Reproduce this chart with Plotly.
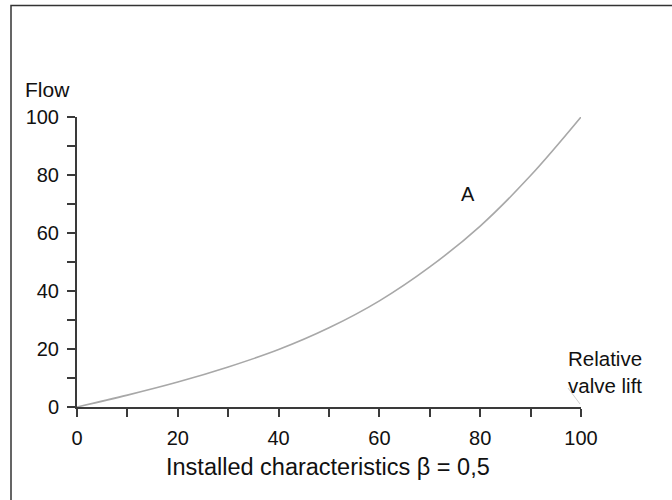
import plotly.graph_objects as go

# Data
valve_lift = [0, 10, 20, 30, 40, 50, 60, 70, 80, 90, 100]
flow = [0, 4.1, 8.6, 13.8, 19.8, 27.3, 36.6, 48.3, 62.4, 79.8, 100]
x_tick_vals = [0, 20, 40, 60, 80, 100]
y_tick_vals = [0, 20, 40, 60, 80, 100]
curve_label = "A"
curve_label_pos = (77.5, 73.3)

W, H = 672, 500
L, R, T, B = 77, 91, 117, 93
pw, ph = W - L - R, H - T - B

def px(xp):
    return (xp - L) / pw

def py(yp):
    return (H - B - yp) / ph

FONT = "Liberation Sans, Arial, Helvetica, sans-serif"
AX = "#3a3a3a"

fig = go.Figure()
fig.add_trace(go.Scatter(
    x=valve_lift, y=flow, mode="lines",
    line=dict(color="#a8a8a8", width=1.6, shape="spline", smoothing=1.0),
    cliponaxis=False, hoverinfo="skip", showlegend=False,
))

tick_font = dict(size=20, color="#111111")
axis_common = dict(
    range=[0, 100], showgrid=False, zeroline=False,
    showline=True, linecolor=AX, linewidth=2,
    ticks="outside", ticklen=8, tickwidth=2, tickcolor=AX,
    minor=dict(dtick=10, ticks="outside", ticklen=8, tickwidth=2, tickcolor=AX, showgrid=False),
    tickfont=tick_font, ticklabelstandoff=4,
)

fig.update_layout(
    width=W, height=H,
    margin=dict(l=L, r=R, t=T, b=B, pad=0),
    paper_bgcolor="white", plot_bgcolor="white",
    font=dict(family=FONT, color="#111111", size=20),
    showlegend=False,
    xaxis=dict(tickvals=x_tick_vals, **axis_common),
    yaxis=dict(tickvals=y_tick_vals, **axis_common),
)

annotations = [
    dict(text="Flow", xref="paper", yref="paper", x=px(23), y=py(90),
         xanchor="left", yanchor="middle", showarrow=False, font=dict(size=21)),
    dict(text="Relative<br>valve lift", xref="paper", yref="paper", x=px(566), y=py(372),
         xanchor="left", yanchor="middle", align="left", showarrow=False, font=dict(size=20.5)),
    dict(text=curve_label, x=curve_label_pos[0], y=curve_label_pos[1],
         xanchor="center", yanchor="middle", showarrow=False, font=dict(size=20)),
    dict(text="Installed characteristics \u03b2 = 0,5", xref="paper", yref="paper",
         x=px(328), y=py(467), xanchor="center", yanchor="middle", showarrow=False,
         font=dict(size=23.5)),
]
fig.update_layout(annotations=annotations)

shapes = [
    dict(type="rect", xref="paper", yref="paper", x0=px(11), x1=px(700), y0=py(540), y1=py(5.5),
         line=dict(color="#333333", width=1.5), fillcolor="rgba(0,0,0,0)", layer="below"),
    dict(type="line", xref="paper", yref="paper", x0=px(568), y0=py(388), x1=px(580), y1=py(404),
         line=dict(color="#cfcfcf", width=1)),
]
fig.update_layout(shapes=shapes)

fig.write_html(
    "out.html",
    config={"displayModeBar": False},
    post_script="document.body.style.margin='0';document.body.style.overflow='hidden';",
)
